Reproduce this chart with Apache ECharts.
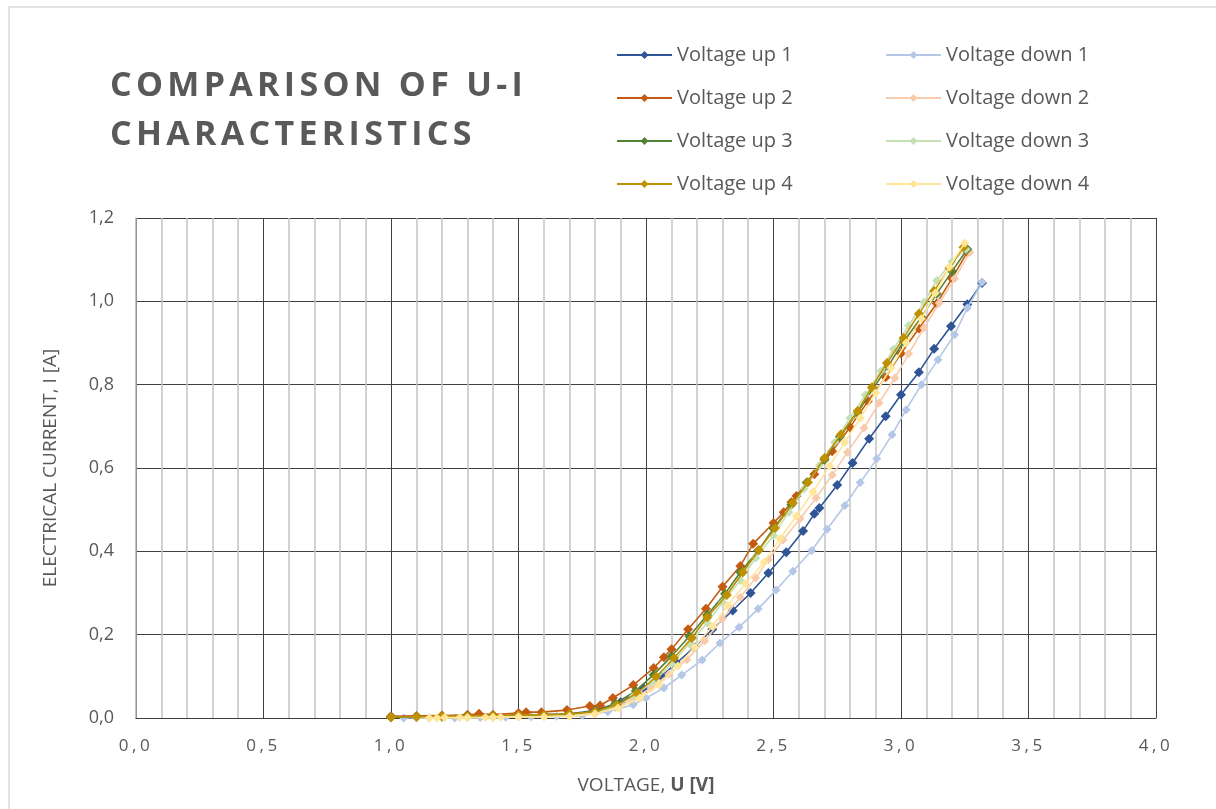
<!DOCTYPE html>
<html>
<head>
<meta charset="utf-8">
<script src="https://cdn.jsdelivr.net/npm/echarts@6/dist/echarts.min.js"></script>
<style>html,body{margin:0;padding:0;background:#fff}#chart{width:1216px;height:809px}</style>
</head>
<body>
<div id="chart"></div>
<script>
// ---- data (voltage V, current A) ----
const up1 = [[1.00,0.003],[1.10,0.003],[1.20,0.004],[1.30,0.007],[1.40,0.006],[1.50,0.007],[1.60,0.008],[1.70,0.010],[1.80,0.018],[1.90,0.038],[1.99,0.072],[2.06,0.100],[2.12,0.132],[2.19,0.170],[2.26,0.213],[2.34,0.258],[2.41,0.300],[2.48,0.348],[2.55,0.398],[2.616,0.449],[2.66,0.490],[2.68,0.504],[2.75,0.559],[2.81,0.612],[2.875,0.670],[2.94,0.724],[3.00,0.776],[3.07,0.830],[3.13,0.886],[3.196,0.940],[3.26,0.993],[3.318,1.044]];
const down1 = [[1.05,0.000],[1.15,0.000],[1.25,0.000],[1.35,0.001],[1.45,0.002],[1.55,0.003],[1.65,0.004],[1.75,0.006],[1.85,0.015],[1.95,0.032],[2.00,0.048],[2.07,0.072],[2.14,0.103],[2.22,0.139],[2.29,0.180],[2.365,0.218],[2.44,0.262],[2.51,0.307],[2.576,0.352],[2.65,0.402],[2.71,0.453],[2.78,0.510],[2.84,0.565],[2.905,0.622],[2.965,0.680],[3.02,0.740],[3.08,0.800],[3.145,0.860],[3.21,0.920],[3.26,0.984],[3.318,1.046]];
const up2 = [[1.00,0.004],[1.10,0.005],[1.20,0.006],[1.30,0.007],[1.345,0.010],[1.40,0.008],[1.50,0.012],[1.53,0.014],[1.59,0.014],[1.69,0.019],[1.78,0.029],[1.82,0.030],[1.87,0.048],[1.95,0.079],[2.03,0.120],[2.07,0.146],[2.10,0.165],[2.165,0.213],[2.235,0.262],[2.30,0.315],[2.37,0.365],[2.42,0.418],[2.50,0.468],[2.54,0.494],[2.57,0.518],[2.59,0.533],[2.66,0.585],[2.73,0.640],[2.80,0.698],[2.87,0.760],[2.94,0.818],[3.00,0.875],[3.07,0.935],[3.14,0.995],[3.20,1.055],[3.26,1.118]];
const down2 = [[1.10,0.000],[1.20,0.001],[1.30,0.001],[1.40,0.002],[1.50,0.003],[1.60,0.004],[1.70,0.006],[1.80,0.010],[1.88,0.025],[1.95,0.045],[2.02,0.072],[2.09,0.105],[2.16,0.140],[2.23,0.185],[2.30,0.238],[2.37,0.290],[2.43,0.336],[2.48,0.380],[2.537,0.427],[2.604,0.478],[2.667,0.528],[2.73,0.583],[2.79,0.638],[2.855,0.696],[2.914,0.756],[2.976,0.816],[3.03,0.874],[3.09,0.936],[3.15,0.996],[3.21,1.054],[3.27,1.118]];
const up3 = [[1.00,0.002],[1.10,0.003],[1.20,0.003],[1.30,0.004],[1.40,0.005],[1.50,0.006],[1.60,0.007],[1.70,0.009],[1.80,0.016],[1.88,0.035],[1.96,0.065],[2.03,0.104],[2.10,0.148],[2.17,0.196],[2.24,0.247],[2.31,0.298],[2.37,0.350],[2.44,0.402],[2.50,0.455],[2.57,0.512],[2.63,0.565],[2.70,0.620],[2.76,0.675],[2.83,0.733],[2.89,0.790],[2.95,0.845],[3.01,0.903],[3.08,0.962],[3.14,1.018],[3.20,1.072],[3.26,1.125]];
const down3 = [[1.10,0.000],[1.20,0.001],[1.30,0.001],[1.40,0.002],[1.50,0.003],[1.60,0.004],[1.70,0.005],[1.80,0.012],[1.88,0.028],[1.95,0.052],[2.03,0.088],[2.10,0.130],[2.17,0.178],[2.24,0.228],[2.30,0.278],[2.37,0.330],[2.43,0.384],[2.50,0.438],[2.56,0.494],[2.62,0.550],[2.68,0.606],[2.74,0.662],[2.80,0.720],[2.86,0.775],[2.92,0.832],[2.97,0.885],[3.03,0.942],[3.09,0.998],[3.14,1.050],[3.20,1.095],[3.255,1.125]];
const up4 = [[1.00,0.002],[1.10,0.003],[1.20,0.004],[1.30,0.005],[1.40,0.006],[1.50,0.007],[1.60,0.008],[1.70,0.010],[1.80,0.015],[1.886,0.031],[1.965,0.060],[2.04,0.099],[2.11,0.144],[2.18,0.192],[2.24,0.242],[2.317,0.295],[2.38,0.350],[2.443,0.403],[2.506,0.456],[2.576,0.516],[2.635,0.566],[2.70,0.624],[2.765,0.681],[2.83,0.737],[2.886,0.794],[2.945,0.852],[3.01,0.912],[3.07,0.970],[3.13,1.025],[3.19,1.080],[3.245,1.130]];
const down4 = [[1.15,0.000],[1.18,0.000],[1.21,0.001],[1.27,0.001],[1.30,0.001],[1.37,0.001],[1.40,0.002],[1.43,0.002],[1.50,0.003],[1.60,0.003],[1.70,0.004],[1.80,0.010],[1.89,0.024],[1.976,0.048],[2.05,0.079],[2.125,0.125],[2.19,0.170],[2.26,0.220],[2.32,0.270],[2.39,0.323],[2.463,0.374],[2.525,0.430],[2.59,0.485],[2.655,0.543],[2.72,0.605],[2.78,0.662],[2.84,0.720],[2.90,0.780],[2.96,0.840],[3.02,0.900],[3.08,0.958],[3.135,1.020],[3.19,1.083],[3.25,1.140]];

const seriesNames = ['Voltage up 1','Voltage down 1','Voltage up 2','Voltage down 2','Voltage up 3','Voltage down 3','Voltage up 4','Voltage down 4'];
const seriesData = [up1, down1, up2, down2, up3, down3, up4, down4];
const seriesColors = ['#2F5597','#B4C7E7','#C55A11','#F8CBAD','#538135','#C5E0B4','#BF9000','#FFE699'];
const xTicks = [0, 0.5, 1, 1.5, 2, 2.5, 3, 3.5, 4];
const yTicks = [0, 0.2, 0.4, 0.6, 0.8, 1.0, 1.2];

// letter spacing for the title and x tick labels (rendering only)
(function(){
  const P = CanvasRenderingContext2D.prototype;
  const oFill = P.fillText, oMeasure = P.measureText;
  function sp(ctx){
    const f = ctx.font;
    if (/(bold|700)/.test(f) && /34px/.test(f)) return '4.3px';
    if (/(^|\s)17px/.test(f)) return '3.5px';
    return '0px';
  }
  P.fillText = function(t,x,y,m){ this.letterSpacing = sp(this); return m===undefined ? oFill.call(this,t,x,y) : oFill.call(this,t,x,y,m); };
  P.measureText = function(t){ this.letterSpacing = sp(this); return oMeasure.call(this,t); };
})();

const fmt = v => v.toFixed(1).replace('.', ',');
const FONT = 'Open Sans';
const chart = echarts.init(document.getElementById('chart'), null, {renderer:'canvas'});

const series = seriesData.map((d,i) => ({
  name: seriesNames[i], type:'line', data: d,
  symbol:'diamond', symbolSize: i % 2 === 0 ? 10 : 9, showSymbol:true,
  lineStyle:{width:1.6, color: seriesColors[i]},
  itemStyle:{color: seriesColors[i]},
  animation:false, z: 2 + i
}));

chart.setOption({
  backgroundColor:'#fff',
  animation:false,
  title:{
    text:'COMPARISON OF U-I\nCHARACTERISTICS',
    left:105, top:57,
    textStyle:{fontFamily:FONT, fontSize:34, fontWeight:'bold', color:'#595959', lineHeight:49}
  },
  legend:[
    {data: seriesNames.filter((n,i)=>i%2===0), orient:'vertical', left:611, top:40, itemWidth:55, itemHeight:10, itemGap:23,
     textStyle:{fontFamily:FONT, fontSize:20, color:'#595959'}},
    {data: seriesNames.filter((n,i)=>i%2===1), orient:'vertical', left:880, top:40, itemWidth:55, itemHeight:10, itemGap:23,
     textStyle:{fontFamily:FONT, fontSize:20, color:'#595959'}}
  ],
  grid:{left:136, right:60, top:218, bottom:91, containLabel:false},
  xAxis:{
    type:'value', min:xTicks[0], max:xTicks[xTicks.length-1], interval:0.5,
    name:'VOLTAGE, {b|U [V]}', nameLocation:'middle', nameGap:58,
    nameTextStyle:{fontFamily:FONT, fontSize:19, color:'#595959', rich:{b:{fontFamily:FONT, fontSize:19, fontWeight:'bold', color:'#595959'}}},
    axisLine:{show:true, lineStyle:{color:'#404040', width:1}},
    axisTick:{show:false},
    axisLabel:{fontFamily:FONT, fontSize:17, color:'#595959', margin:18, formatter: v => fmt(v)},
    splitLine:{show:true, lineStyle:{color:'#404040', width:1}},
    minorTick:{show:false, splitNumber:5},
    minorSplitLine:{show:true, lineStyle:{color:'#c4c4c4', width:1.5}}
  },
  yAxis:{
    type:'value', min:yTicks[0], max:yTicks[yTicks.length-1], interval:0.2,
    name:'ELECTRICAL CURRENT, I [A]', nameLocation:'middle', nameGap:76, nameRotate:90,
    nameTextStyle:{fontFamily:FONT, fontSize:19, color:'#595959'},
    axisLine:{show:true, lineStyle:{color:'#b0b0b0', width:1.5}},
    axisTick:{show:false},
    axisLabel:{fontFamily:FONT, fontSize:18, color:'#595959', margin:22, formatter: v => fmt(v)},
    splitLine:{show:true, lineStyle:{color:'#404040', width:1}}
  },
  graphic:[{type:'rect', shape:{x:9, y:7, width:1240, height:840}, style:{fill:null, stroke:'#d9d9d9', lineWidth:1.5}, silent:true, z:-1}],
  series: series
});
</script>
</body>
</html>
